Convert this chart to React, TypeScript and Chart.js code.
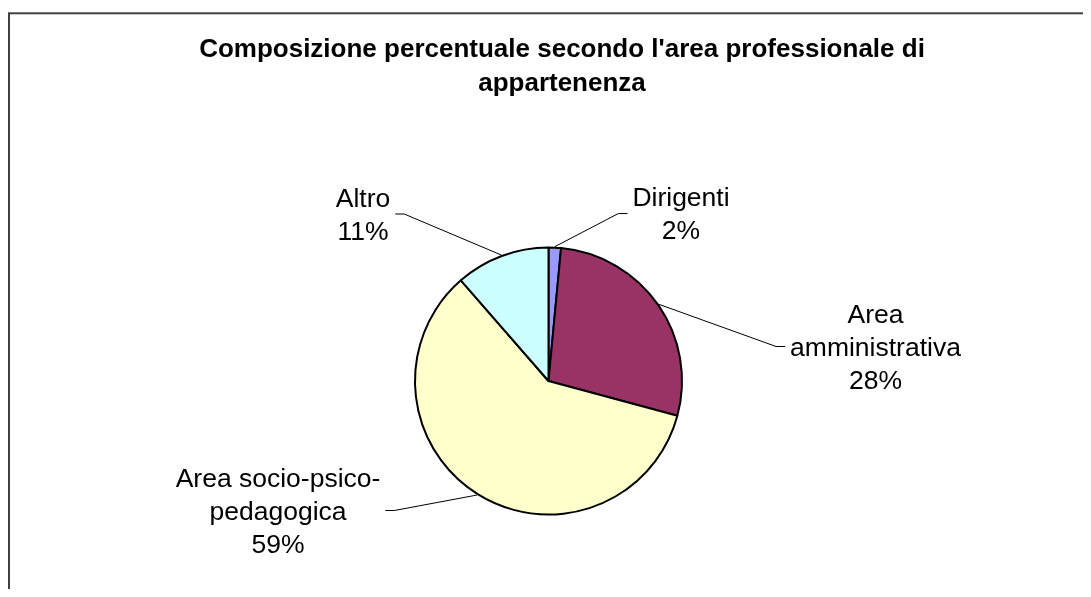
import { useEffect, useRef } from "react";
import { Chart, registerables } from "chart.js";

Chart.register(...registerables);

// ---- data ----
const categories = ["Dirigenti", "Area amministrativa", "Area socio-psico-pedagogica", "Altro"];
const labelLines = [["Dirigenti"], ["Area", "amministrativa"], ["Area socio-psico-", "pedagogica"], ["Altro"]];
const shares = [1.5, 27.7, 59.4, 11.4];
const sliceColors = ["#9999FF", "#993366", "#FFFFCC", "#CCFFFF"];
const titleLines = ["Composizione percentuale secondo l'area professionale di", "appartenenza"];

// ---- layout / style ----
const W = 1075;
const H = 581;
const FONT = '"Liberation Sans", Arial, Helvetica, sans-serif';
const LABEL_SIZE = 26.5;
const TITLE_SIZE = 26;
const LINE_H = 33;
const CAP = LABEL_SIZE * 0.716;
const GAP = 5;
const KNEE = 9;
// label block centre, offset from the pie centre (px)
const labelOffsets = [
  { dx: 132.5, dy: -167.5 },
  { dx: 327, dy: -34.5 },
  { dx: -270.5, dy: 129.5 },
  { dx: -185.5, dy: -167 },
];
const TITLE_X = 554;
const TITLE_BASE = [49, 83];

const framePlugin = {
  id: "frame",
  beforeDraw(chart: any) {
    const ctx = chart.ctx;
    ctx.save();
    ctx.fillStyle = "#ffffff";
    ctx.fillRect(0, 0, chart.width, chart.height);
    ctx.strokeStyle = "#404040";
    ctx.lineWidth = 2;
    ctx.strokeRect(1, 5.3, 3000, 3000);
    ctx.fillStyle = "#000000";
    ctx.font = `bold ${TITLE_SIZE}px ${FONT}`;
    ctx.textAlign = "center";
    ctx.textBaseline = "alphabetic";
    titleLines.forEach((t, k) => ctx.fillText(t, TITLE_X, TITLE_BASE[k]));
    ctx.restore();
  },
};

const labelPlugin = {
  id: "sliceLabels",
  afterDraw(chart: any) {
    const ctx = chart.ctx;
    const meta = chart.getDatasetMeta(0);
    const total = shares.reduce((a, b) => a + b, 0);
    ctx.save();
    ctx.font = `${LABEL_SIZE}px ${FONT}`;
    meta.data.forEach((arc: any, i: number) => {
      const { x, y, startAngle, endAngle, outerRadius } = arc.getProps(
        ["x", "y", "startAngle", "endAngle", "outerRadius"],
        true
      );
      const mid = (startAngle + endAngle) / 2;
      const rimX = x + Math.cos(mid) * (outerRadius + 1);
      const rimY = y + Math.sin(mid) * (outerRadius + 1);
      const lines = [...labelLines[i], Math.round((shares[i] / total) * 100) + "%"];
      const off = labelOffsets[i];
      const cx = x + off.dx;
      const cy = y + off.dy;
      const blockH = CAP + (lines.length - 1) * LINE_H;
      const firstBase = cy - blockH / 2 + CAP;
      const maxW = Math.max(...lines.map((l) => ctx.measureText(l).width));
      const side = off.dx > 0 ? -1 : 1;
      const attachX = cx + side * (maxW / 2 + GAP);
      const kneeX = attachX + side * KNEE;
      ctx.strokeStyle = "#000000";
      ctx.lineWidth = 1;
      ctx.beginPath();
      ctx.moveTo(rimX, rimY);
      ctx.lineTo(kneeX, cy);
      ctx.lineTo(attachX, cy);
      ctx.stroke();
      ctx.fillStyle = "#000000";
      ctx.textAlign = "center";
      ctx.textBaseline = "alphabetic";
      lines.forEach((l, k) => ctx.fillText(l, cx, firstBase + k * LINE_H));
    });
    ctx.restore();
  },
};

export default function App() {
  const ref = useRef<HTMLCanvasElement | null>(null);
  useEffect(() => {
    if (!ref.current) return;
    const chart = new Chart(ref.current, {
      type: "pie",
      data: {
        labels: categories,
        datasets: [
          {
            data: shares,
            backgroundColor: sliceColors,
            borderColor: "#000000",
            borderWidth: 2,
          },
        ],
      },
      options: {
        responsive: false,
        animation: false,
        events: [],
        layout: { padding: { top: 238.5, bottom: 73.5, left: 406, right: W - 675 } },
        plugins: {
          legend: { display: false },
          tooltip: { enabled: false },
          title: { display: false },
        },
      },
      plugins: [framePlugin, labelPlugin],
    });
    return () => chart.destroy();
  }, []);
  return (
    <div style={{ width: W, height: H, overflow: "hidden" }}>
      <canvas ref={ref} width={W} height={H} style={{ display: "block" }} />
    </div>
  );
}
